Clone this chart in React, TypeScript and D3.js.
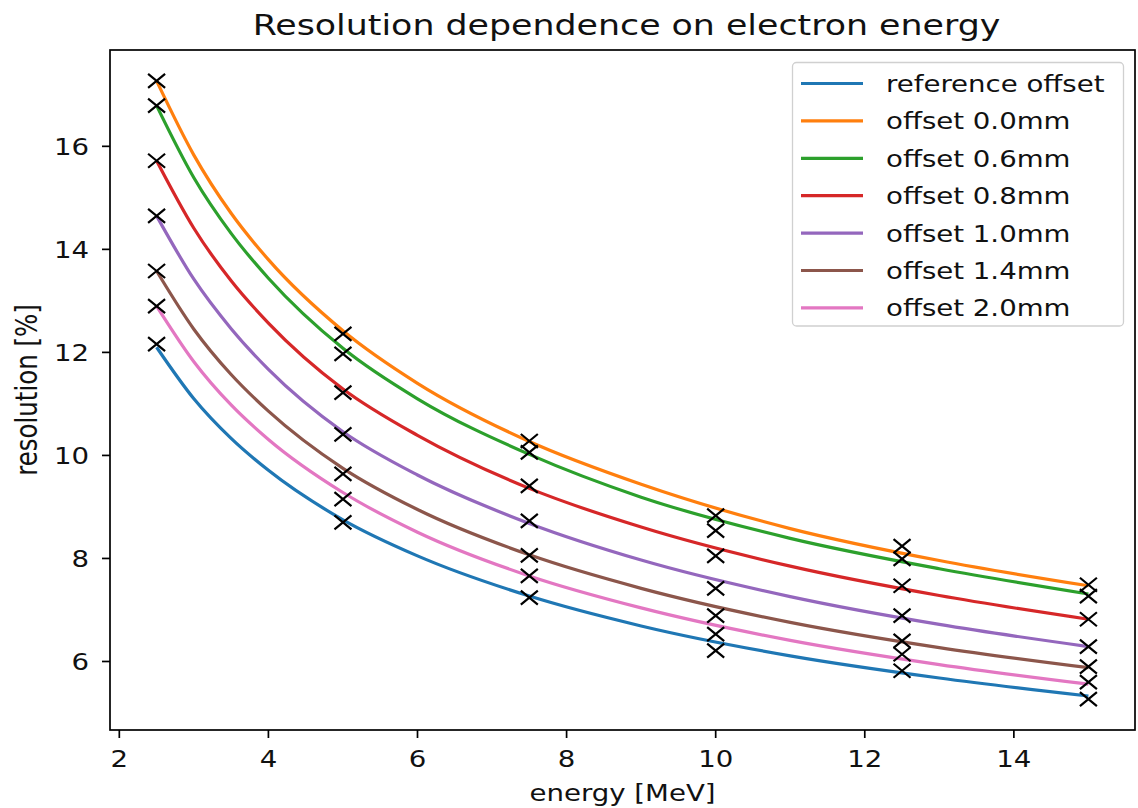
import React from "react";
import * as d3 from "d3";

// ---------- data ----------
const seriesNames = [
  "reference offset",
  "offset 0.0mm",
  "offset 0.6mm",
  "offset 0.8mm",
  "offset 1.0mm",
  "offset 1.4mm",
  "offset 2.0mm",
];
const seriesColors = ["#1f77b4", "#ff7f0e", "#2ca02c", "#d62728", "#9467bd", "#8c564b", "#e377c2"];

// measured points (black x markers)
const measEnergy = [2.5, 5, 7.5, 10, 12.5, 15];
const measReference = [12.16, 8.7, 7.24, 6.21, 5.82, 5.27];
const meas00 = [17.27, 12.36, 10.28, 8.83, 8.24, 7.49];
const meas06 = [16.79, 11.97, 10.06, 8.54, 7.99, 7.27];
const meas08 = [15.72, 11.22, 9.41, 8.05, 7.47, 6.82];
const meas10 = [14.65, 10.41, 8.73, 7.42, 6.89, 6.29];
const meas14 = [13.58, 9.64, 8.06, 6.89, 6.4, 5.9];
const meas20 = [12.9, 9.15, 7.66, 6.53, 6.14, 5.6];

// fitted curves, values
const fitEnergy = [2.5, 3, 3.5, 4, 5, 6, 7.5, 9, 11, 13, 15];
const fitReference = [12.1, 11.1, 10.33, 9.71, 8.75, 8.05, 7.27, 6.69, 6.11, 5.68, 5.33];
const fit00 = [17.27, 15.83, 14.7, 13.8, 12.42, 11.4, 10.27, 9.44, 8.58, 7.96, 7.47];
const fit06 = [16.79, 15.39, 14.31, 13.44, 12.08, 11.1, 10.02, 9.19, 8.39, 7.8, 7.31];
const fit08 = [15.72, 14.41, 13.39, 12.57, 11.29, 10.39, 9.36, 8.61, 7.85, 7.28, 6.82];
const fit10 = [14.65, 13.42, 12.46, 11.67, 10.46, 9.62, 8.68, 7.97, 7.26, 6.72, 6.29];
const fit14 = [13.58, 12.45, 11.57, 10.86, 9.75, 8.95, 8.07, 7.42, 6.76, 6.27, 5.88];
const fit20 = [12.9, 11.82, 10.98, 10.31, 9.28, 8.51, 7.66, 7.04, 6.41, 5.94, 5.56];

const measSeries = [measReference, meas00, meas06, meas08, meas10, meas14, meas20];
const fitSeries = [fitReference, fit00, fit06, fit08, fit10, fit14, fit20];

const xTicks = [2, 4, 6, 8, 10, 12, 14];
const yTicks = [6, 8, 10, 12, 14, 16];

const titleText = "Resolution dependence on electron energy";
const xLabel = "energy [MeV]";
const yLabel = "resolution [%]";

// ---------- layout ----------
const W = 1138;
const H = 808;
const left = 110;
const right = 1135;
const top = 50;
const bottom = 730;
const SX = 1.2; // horizontal stretch of the reference's text
const FONT = "'DejaVu Sans', sans-serif";

function padded(ext: [number, number]): [number, number] {
  const r = ext[1] - ext[0];
  return [ext[0] - 0.05 * r, ext[1] + 0.05 * r];
}

export default function App() {
  const allY = [...measSeries.flat(), ...fitSeries.flat()];
  const x = d3.scaleLinear().domain(padded(d3.extent(measEnergy) as [number, number])).range([left, right]);
  const y = d3.scaleLinear().domain(padded(d3.extent(allY) as [number, number])).range([bottom, top]);

  const line = d3
    .line<[number, number]>()
    .x((d) => x(d[0]))
    .y((d) => y(d[1]))
    .curve(d3.curveMonotoneX);

  const T = (p: {
    x: number;
    y: number;
    size: number;
    anchor?: string;
    children: React.ReactNode;
    rotate?: number;
  }) => (
    <text
      transform={`translate(${p.x},${p.y}) scale(${SX},1)${p.rotate ? ` rotate(${p.rotate})` : ""}`}
      fontSize={p.size}
      fontFamily={FONT}
      textAnchor={p.anchor || "start"}
      fill="#111"
    >
      {p.children}
    </text>
  );

  const legX = 792.5;
  const legY = 62.5;
  const legW = 331;
  const legRow = 37.4;
  const legH = 263.5;

  return (
    <svg width={W} height={H} style={{ position: "absolute", left: 0, top: 0, background: "#fff" }}>
      <rect x={0} y={0} width={W} height={H} fill="#fff" />
      {/* curves */}
      <g>
        {fitSeries.map((vals, i) => (
          <path
            key={i}
            d={line(fitEnergy.map((e, j) => [e, vals[j]] as [number, number])) || ""}
            fill="none"
            stroke={seriesColors[i]}
            strokeWidth={3.2}
          />
        ))}
      </g>
      {/* markers */}
      {measSeries.map((vals, i) =>
        vals.map((v, j) => {
          const cx = x(measEnergy[j]);
          const cy = y(v);
          const hx = 8.5;
          const hy = 7;
          return (
            <path
              key={`${i}-${j}`}
              d={`M${cx - hx},${cy - hy}L${cx + hx},${cy + hy}M${cx - hx},${cy + hy}L${cx + hx},${cy - hy}`}
              stroke="#000"
              strokeWidth={2.2}
              fill="none"
            />
          );
        })
      )}
      {/* spines */}
      <rect x={left} y={top} width={right - left} height={bottom - top} fill="none" stroke="#000" strokeWidth={1.7} />
      {/* x ticks */}
      {xTicks.map((t) => (
        <g key={`xt${t}`}>
          <line x1={x(t)} x2={x(t)} y1={bottom} y2={bottom + 8} stroke="#000" strokeWidth={1.7} />
          <T x={x(t)} y={767} size={23} anchor="middle">
            {t}
          </T>
        </g>
      ))}
      {/* y ticks */}
      {yTicks.map((t) => (
        <g key={`yt${t}`}>
          <line x1={left - 8} x2={left} y1={y(t)} y2={y(t)} stroke="#000" strokeWidth={1.7} />
          <T x={89} y={y(t) + 8.5} size={23} anchor="end">
            {t}
          </T>
        </g>
      ))}
      {/* labels */}
      <T x={(left + right) / 2} y={801} size={23} anchor="middle">
        {xLabel}
      </T>
      <T x={37} y={(top + bottom) / 2} size={24.5} anchor="middle" rotate={-90}>
        {yLabel}
      </T>
      <T x={(left + right) / 2 + 4} y={35} size={29} anchor="middle">
        {titleText}
      </T>
      {/* legend */}
      <rect
        x={legX}
        y={legY}
        width={legW}
        height={legH}
        rx={4}
        fill="#fff"
        fillOpacity={0.8}
        stroke="#d0d0d0"
        strokeWidth={1.3}
      />
      {seriesNames.map((name, i) => {
        const cy = legY + 21 + i * legRow;
        return (
          <g key={name}>
            <line x1={801} x2={863} y1={cy} y2={cy} stroke={seriesColors[i]} strokeWidth={3.2} />
            <T x={886} y={cy + 8.5} size={23}>
              {name}
            </T>
          </g>
        );
      })}
    </svg>
  );
}
